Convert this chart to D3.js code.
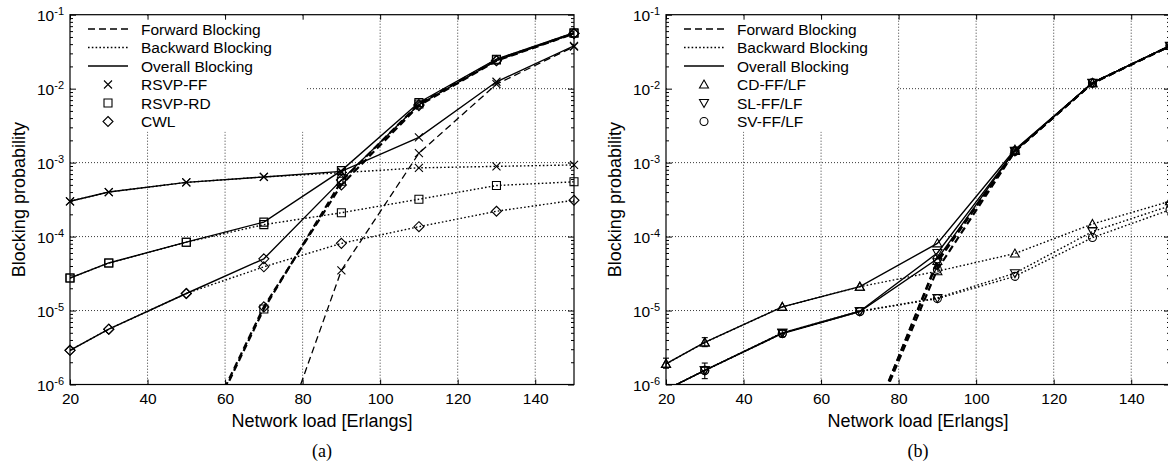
<!DOCTYPE html>
<html>
<head>
<meta charset="utf-8">
<script src="https://cdn.jsdelivr.net/npm/d3@7"></script>
<style>
  body { margin: 0; background: #fff; }
  svg { display: block; font-family: "Liberation Sans", Arial, sans-serif; }
</style>
</head>
<body>
<div id="vis"></div>
<script>
const FRAME_WIDTH = 1168;
const FRAME_HEIGHT = 463;

// shared axes
const loads = [20, 30, 50, 70, 90, 110, 130, 150];
const xTicks = [20, 40, 60, 80, 100, 120, 140];
const yDecades = [1e-6, 1e-5, 1e-4, 1e-3, 1e-2, 1e-1];
const yExponents = ["-6", "-5", "-4", "-3", "-2", "-1"];

// panel (a): RSVP-FF, RSVP-RD, CWL
const ffOverall  = [3.0e-4, 4.0e-4, 5.4e-4, 6.4e-4, 7.6e-4, 2.2e-3, 1.24e-2, 3.8e-2];
const ffBackward = [3.0e-4, 4.0e-4, 5.4e-4, 6.4e-4, 7.3e-4, 8.5e-4, 8.9e-4, 9.3e-4];
const ffForward  = [null, null, null, 4e-8, 3.5e-5, 1.34e-3, 1.15e-2, 3.7e-2];

const rdOverall  = [2.75e-5, 4.4e-5, 8.4e-5, 1.57e-4, 7.8e-4, 6.5e-3, 2.5e-2, 5.7e-2];
const rdBackward = [2.75e-5, 4.4e-5, 8.4e-5, 1.45e-4, 2.1e-4, 3.2e-4, 4.9e-4, 5.5e-4];
const rdForward  = [null, null, 7e-8, 1.05e-5, 5.6e-4, 6.2e-3, 2.45e-2, 5.6e-2];

const cwlOverall  = [2.9e-6, 5.6e-6, 1.7e-5, 5.0e-5, 5.8e-4, 6.1e-3, 2.4e-2, 5.6e-2];
const cwlBackward = [2.9e-6, 5.6e-6, 1.7e-5, 3.9e-5, 8.1e-5, 1.36e-4, 2.2e-4, 3.1e-4];
const cwlForward  = [null, null, 7.5e-8, 1.12e-5, 5.0e-4, 5.9e-3, 2.38e-2, 5.55e-2];

// panel (b): CD-FF/LF, SL-FF/LF, SV-FF/LF
const cdOverall  = [1.9e-6, 3.7e-6, 1.12e-5, 2.1e-5, 8.1e-5, 1.5e-3, 1.2e-2, 3.8e-2];
const cdBackward = [1.9e-6, 3.7e-6, 1.12e-5, 2.1e-5, 3.4e-5, 5.9e-5, 1.48e-4, 3.0e-4];
const cdForward  = [null, null, null, 1.2e-7, 4.7e-5, 1.44e-3, 1.18e-2, 3.77e-2];

const slOverall  = [8.5e-7, 1.55e-6, 5.0e-6, 9.8e-6, 6.0e-5, 1.45e-3, 1.2e-2, 3.8e-2];
const slBackward = [8.5e-7, 1.55e-6, 5.0e-6, 9.8e-6, 1.48e-5, 3.2e-5, 1.17e-4, 2.6e-4];
const slForward  = [null, null, null, 1.2e-7, 4.5e-5, 1.42e-3, 1.19e-2, 3.77e-2];

const svOverall  = [8.5e-7, 1.55e-6, 4.9e-6, 9.7e-6, 5.0e-5, 1.45e-3, 1.2e-2, 3.8e-2];
const svBackward = [8.5e-7, 1.55e-6, 4.9e-6, 9.7e-6, 1.45e-5, 2.9e-5, 9.7e-5, 2.3e-4];
const svForward  = [null, null, null, 1.2e-7, 3.6e-5, 1.42e-3, 1.19e-2, 3.77e-2];

// error bars seen in panel (b)
const errLoads = [20, 30, 30, 50];
const errLow   = [1.66e-6, 3.25e-6, 1.2e-6, 4.4e-6];
const errHigh  = [2.27e-6, 4.3e-6, 1.95e-6, 5.4e-6];

const lineLabels = ["Forward Blocking", "Backward Blocking", "Overall Blocking"];
const DASH = {forward: "7,4", backward: "1.6,2.2", overall: null};
const WIDTH = {forward: 1.3, backward: 1.4, overall: 1.4};

const svg = d3.select("#vis")
  .append("svg")
    .attr("width", FRAME_WIDTH)
    .attr("height", FRAME_HEIGHT);

// marker shapes
function markerPath(type) {
  switch (type) {
    case "x": return "M-4,-4L4,4M-4,4L4,-4";
    case "square": return "M-4,-4H4V4H-4Z";
    case "diamond": return "M0,-5L5,0L0,5L-5,0Z";
    case "up": return "M0,-4.5L4.5,3.5L-4.5,3.5Z";
    case "down": return "M0,4.5L4.5,-3.5L-4.5,-3.5Z";
    case "circle": return "M4,0A4,4 0 1,1 -4,0A4,4 0 1,1 4,0Z";
  }
}

function drawPanel(cfg) {
  const X_SCALE = d3.scaleLinear().domain([20, 150]).range([cfg.left, cfg.right]);
  const Y_SCALE = d3.scaleLog().domain([1e-6, 1e-1]).range([384.5, 14.7]);
  const top = Y_SCALE(1e-1), bottom = Y_SCALE(1e-6);
  const mid = cfg.left + 252;
  const g = svg.append("g");

  const clipId = "clip-" + cfg.name;
  g.append("clipPath").attr("id", clipId)
    .append("rect")
      .attr("x", cfg.left).attr("y", top)
      .attr("width", cfg.right - cfg.left).attr("height", bottom - top);

  // grid
  const grid = g.append("g").attr("stroke", "#222").attr("stroke-width", 0.9)
    .attr("stroke-dasharray", "1,2").attr("clip-path", `url(#${clipId})`);
  grid.selectAll(".gx").data(xTicks.slice(1)).enter().append("line")
    .attr("x1", d => X_SCALE(d)).attr("x2", d => X_SCALE(d))
    .attr("y1", top).attr("y2", bottom);
  grid.selectAll(".gy").data(yDecades.slice(1, -1)).enter().append("line")
    .attr("x1", cfg.left).attr("x2", cfg.right)
    .attr("y1", d => Y_SCALE(d)).attr("y2", d => Y_SCALE(d));

  // legend background hides the grid
  g.append("rect")
    .attr("x", cfg.left + 2).attr("y", top + 2)
    .attr("width", cfg.legendWidth).attr("height", 115)
    .attr("fill", "#fff");

  // error bars
  if (cfg.errors) {
    const eb = g.append("g").attr("stroke", "#000").attr("stroke-width", 1.1);
    errLoads.forEach((x, i) => {
      const px = X_SCALE(x);
      eb.append("line").attr("x1", px).attr("x2", px)
        .attr("y1", Y_SCALE(errLow[i])).attr("y2", Y_SCALE(errHigh[i]));
      [errLow[i], errHigh[i]].forEach(v => {
        eb.append("line").attr("x1", px - 3).attr("x2", px + 3)
          .attr("y1", Y_SCALE(v)).attr("y2", Y_SCALE(v));
      });
    });
  }

  // curves
  const line = d3.line()
    .defined(d => d[1] != null)
    .x(d => X_SCALE(d[0]))
    .y(d => Y_SCALE(d[1]));

  cfg.series.forEach(s => {
    const pts = loads.map((x, i) => [x, s.values[i]]);
    g.append("path")
      .datum(pts)
      .attr("clip-path", `url(#${clipId})`)
      .attr("fill", "none")
      .attr("stroke", "#000")
      .attr("stroke-width", s.width || WIDTH[s.kind])
      .attr("stroke-dasharray", DASH[s.kind])
      .attr("d", line);
    g.selectAll(null)
      .data(pts.filter(d => d[1] != null && d[1] >= 1e-6 && d[1] <= 1e-1))
      .enter().append("path")
        .attr("transform", d => `translate(${X_SCALE(d[0])},${Y_SCALE(d[1])})`)
        .attr("d", markerPath(s.marker))
        .attr("fill", "none")
        .attr("stroke", "#000")
        .attr("stroke-width", 1.1);
  });

  // axes: ticks pointing inward
  const xb = g.append("g")
    .attr("transform", `translate(0,${bottom})`)
    .call(d3.axisBottom(X_SCALE).tickValues(xTicks).tickSizeInner(-5).tickSizeOuter(0).tickPadding(8))
    .attr("font-size", "15.5px")
    .attr("font-family", "'Liberation Sans', Arial, sans-serif");
  xb.select(".domain").remove();
  xb.selectAll("text").attr("fill", "#000");

  const xt = g.append("g")
    .attr("transform", `translate(0,${top})`)
    .call(d3.axisTop(X_SCALE).tickValues(xTicks).tickSizeInner(-5).tickSizeOuter(0).tickFormat(""));
  xt.select(".domain").remove();

  const minor = [];
  yDecades.slice(0, -1).forEach(d => { for (let m = 2; m <= 9; m++) minor.push(m * d); });

  [[d3.axisLeft, cfg.left], [d3.axisRight, cfg.right]].forEach(([ax, px]) => {
    const a = g.append("g").attr("transform", `translate(${px},0)`)
      .call(ax(Y_SCALE).tickValues(yDecades).tickSizeInner(-6).tickSizeOuter(0).tickFormat(""));
    a.select(".domain").remove();
    const b = g.append("g").attr("transform", `translate(${px},0)`)
      .call(ax(Y_SCALE).tickValues(minor).tickSizeInner(-3).tickSizeOuter(0).tickFormat(""));
    b.select(".domain").remove();
  });

  // frame
  g.append("rect")
    .attr("x", cfg.left).attr("y", top)
    .attr("width", cfg.right - cfg.left).attr("height", bottom - top)
    .attr("fill", "none").attr("stroke", "#000").attr("stroke-width", 1.2);

  // y tick labels with superscripts
  yDecades.forEach((v, i) => {
    const t = g.append("text")
      .attr("x", cfg.left - 6)
      .attr("y", Y_SCALE(v) + 6.5)
      .attr("text-anchor", "end")
      .attr("font-size", "15.5px");
    t.append("tspan").text("10");
    t.append("tspan").attr("font-size", "11px").attr("dy", -6).text(yExponents[i]);
  });

  // axis titles
  g.append("text")
    .attr("x", mid)
    .attr("y", 427)
    .attr("text-anchor", "middle")
    .attr("font-size", "18px")
    .text("Network load [Erlangs]");

  g.append("text")
    .attr("transform", `translate(${cfg.left - 45},${(top + bottom) / 2}) rotate(-90)`)
    .attr("text-anchor", "middle")
    .attr("font-size", "18px")
    .text("Blocking probability");

  g.append("text")
    .attr("x", mid)
    .attr("y", 457)
    .attr("text-anchor", "middle")
    .attr("font-family", "'Liberation Serif', 'Times New Roman', serif")
    .attr("font-size", "18px")
    .text(cfg.caption);

  // legend
  const lx0 = cfg.left + 18, lx1 = cfg.left + 58, tx = cfg.left + 71;
  const rows = [29, 47.5, 66, 84.5, 103, 121.5];
  ["forward", "backward", "overall"].forEach((k, i) => {
    g.append("line")
      .attr("x1", lx0).attr("x2", lx1)
      .attr("y1", rows[i]).attr("y2", rows[i])
      .attr("stroke", "#000").attr("stroke-width", 1.3)
      .attr("stroke-dasharray", DASH[k]);
    g.append("text").attr("x", tx).attr("y", rows[i] + 5.5)
      .attr("font-size", "15.5px").text(lineLabels[i]);
  });
  cfg.legend.forEach((l, i) => {
    g.append("path")
      .attr("transform", `translate(${(lx0 + lx1) / 2},${rows[i + 3]})`)
      .attr("d", markerPath(l.marker))
      .attr("fill", "none").attr("stroke", "#000").attr("stroke-width", 1.1);
    g.append("text").attr("x", tx).attr("y", rows[i + 3] + 5.5)
      .attr("font-size", "15.5px").text(l.label);
  });
}

drawPanel({
  name: "a", left: 70, right: 574, caption: "(a)", legendWidth: 233,
  series: [
    {values: ffBackward, kind: "backward", marker: "x"},
    {values: rdBackward, kind: "backward", marker: "square"},
    {values: cwlBackward, kind: "backward", marker: "diamond"},
    {values: ffForward, kind: "forward", marker: "x"},
    {values: rdForward, kind: "forward", marker: "square", width: 2.2},
    {values: cwlForward, kind: "forward", marker: "diamond", width: 2.2},
    {values: ffOverall, kind: "overall", marker: "x"},
    {values: rdOverall, kind: "overall", marker: "square"},
    {values: cwlOverall, kind: "overall", marker: "diamond"}
  ],
  legend: [
    {label: "RSVP-FF", marker: "x"},
    {label: "RSVP-RD", marker: "square"},
    {label: "CWL", marker: "diamond"}
  ]
});

drawPanel({
  name: "b", left: 666, right: 1170, caption: "(b)", legendWidth: 227, errors: true,
  series: [
    {values: cdBackward, kind: "backward", marker: "up"},
    {values: slBackward, kind: "backward", marker: "down"},
    {values: svBackward, kind: "backward", marker: "circle"},
    {values: cdForward, kind: "forward", marker: "up", width: 2.2},
    {values: slForward, kind: "forward", marker: "down", width: 2.2},
    {values: svForward, kind: "forward", marker: "circle", width: 2.2},
    {values: cdOverall, kind: "overall", marker: "up"},
    {values: slOverall, kind: "overall", marker: "down"},
    {values: svOverall, kind: "overall", marker: "circle"}
  ],
  legend: [
    {label: "CD-FF/LF", marker: "up"},
    {label: "SL-FF/LF", marker: "down"},
    {label: "SV-FF/LF", marker: "circle"}
  ]
});
</script>
</body>
</html>
